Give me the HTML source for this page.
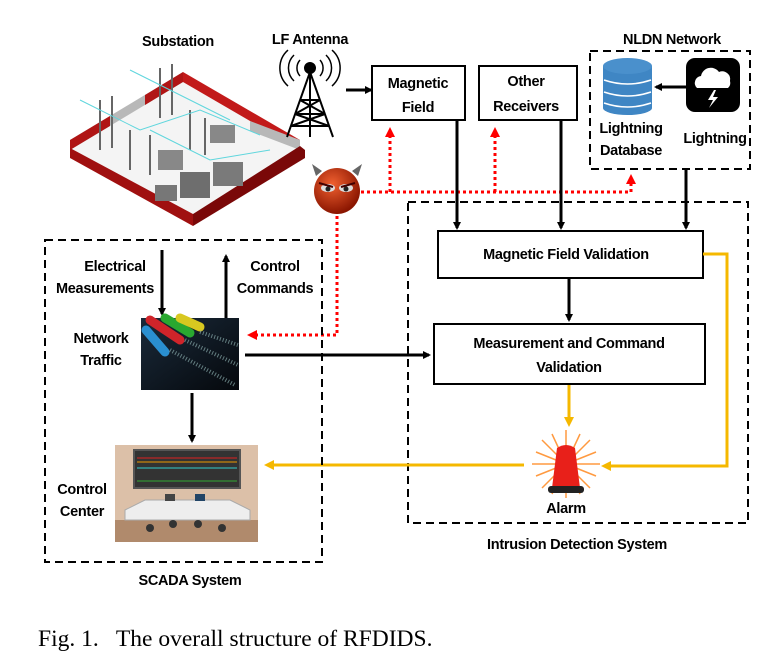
<!DOCTYPE html>
<html><head><meta charset="utf-8"><style>
html,body{margin:0;padding:0;background:#fff;}
svg{display:block;}
.t{font-family:"Liberation Sans",sans-serif;font-weight:bold;font-size:14.5px;fill:#000;letter-spacing:-0.3px;}
</style></head><body>
<svg width="768" height="672" viewBox="0 0 768 672" xmlns="http://www.w3.org/2000/svg">
<defs>
<marker id="ab" markerWidth="8" markerHeight="8" refX="6" refY="4" orient="auto" markerUnits="userSpaceOnUse"><path d="M0,0 L8,4 L0,8 z" fill="#000"/></marker>
<marker id="ar" markerWidth="10" markerHeight="10" refX="7" refY="5" orient="auto" markerUnits="userSpaceOnUse"><path d="M0,0 L10,5 L0,10 z" fill="#f00"/></marker>
<marker id="ay" markerWidth="10" markerHeight="10" refX="7" refY="5" orient="auto" markerUnits="userSpaceOnUse"><path d="M0,0 L10,5 L0,10 z" fill="#f5b800"/></marker>
<radialGradient id="dv" cx="40%" cy="35%" r="65%"><stop offset="0" stop-color="#f06030"/><stop offset="1" stop-color="#8a1500"/></radialGradient>
<linearGradient id="nt" x1="0" y1="0" x2="1" y2="1"><stop offset="0" stop-color="#1a2a3a"/><stop offset="1" stop-color="#05080c"/></linearGradient>
</defs>

<text class="t" x="178" y="46" text-anchor="middle">Substation</text>
<text class="t" x="310" y="44" text-anchor="middle">LF Antenna</text>
<text class="t" x="672" y="44" text-anchor="middle">NLDN Network</text>

<!-- Substation -->
<g>
<polygon points="70,148 183,80 300,148 193,222" fill="#f4f4f4"/>
<polygon points="70,140 183,72 183,82 70,150" fill="#b8b8b8"/>
<polygon points="70,140 110,116 110,126 70,150" fill="#b01515"/>
<polygon points="145,95 183,72 183,82 145,105" fill="#b01515"/>
<polygon points="183,72 300,140 300,150 183,82" fill="#c21a1a"/>
<polygon points="250,121 300,140 300,150 250,131" fill="#b8b8b8"/>
<polygon points="70,148 193,214 193,226 70,158" fill="#a01010"/>
<polygon points="193,214 300,146 305,150 305,158 193,226" fill="#7a0808"/>
<g stroke="#666" stroke-width="2">
<line x1="100" y1="100" x2="100" y2="150"/><line x1="112" y1="96" x2="112" y2="148"/>
<line x1="160" y1="68" x2="160" y2="118"/><line x1="172" y1="64" x2="172" y2="115"/>
<line x1="130" y1="130" x2="130" y2="170"/><line x1="150" y1="135" x2="150" y2="175"/>
<line x1="190" y1="110" x2="190" y2="150"/><line x1="205" y1="118" x2="205" y2="155"/>
</g>
<g stroke="#5fd6dd" stroke-width="1" fill="none">
<path d="M80,100 L140,130 L200,110 L260,135"/><path d="M130,70 L190,100 L230,120"/><path d="M150,130 L210,160 L270,150"/>
</g>
<rect x="155" y="185" width="22" height="16" fill="#777"/>
<rect x="180" y="172" width="30" height="26" fill="#6e6e6e"/>
<rect x="213" y="162" width="30" height="24" fill="#7a7a7a"/>
<rect x="158" y="150" width="25" height="20" fill="#888"/>
<rect x="210" y="125" width="25" height="18" fill="#888"/>
</g>

<!-- Antenna -->
<g stroke="#000" stroke-width="2" fill="none">
<circle cx="310" cy="68" r="5" fill="#000"/>
<path d="M310,72 L287,137 M310,72 L333,137 M310,72 L310,137 M300,100 L320,100 M295,114 L325,114 M291,126 L329,126 M300,100 L325,114 M320,100 L295,114 M295,114 L329,126 M325,114 L291,126"/>
<path d="M300,60 a12,12 0 0 0 0,16 M320,60 a12,12 0 0 1 0,16 M294,55 a18,18 0 0 0 0,26 M326,55 a18,18 0 0 1 0,26 M288,50 a24,24 0 0 0 0,36 M332,50 a24,24 0 0 1 0,36" stroke-width="1.5"/>
</g>
<line x1="346" y1="90" x2="371" y2="90" stroke="#000" stroke-width="3" marker-end="url(#ab)"/>

<rect x="372" y="66" width="93" height="54" fill="#fff" stroke="#000" stroke-width="2"/>
<text class="t" x="418" y="88" text-anchor="middle" font-size="15.5">Magnetic</text>
<text class="t" x="418" y="112" text-anchor="middle" font-size="15.5">Field</text>
<rect x="479" y="66" width="98" height="54" fill="#fff" stroke="#000" stroke-width="2"/>
<text class="t" x="526" y="86" text-anchor="middle" font-size="15.5">Other</text>
<text class="t" x="526" y="111" text-anchor="middle" font-size="15.5">Receivers</text>

<!-- NLDN -->
<rect x="590" y="51" width="160" height="118" fill="none" stroke="#000" stroke-width="2" stroke-dasharray="8,5"/>
<g>
<rect x="603" y="66" width="49" height="42" fill="#3f86c4"/>
<ellipse cx="627.5" cy="66" rx="24.5" ry="8" fill="#4a90cc"/>
<ellipse cx="627.5" cy="108" rx="24.5" ry="7" fill="#3f86c4"/>
<path d="M604,80 q23.5,8 47,0 M604,92 q23.5,8 47,0 M604,103 q23.5,8 47,0" stroke="#fff" stroke-width="1.5" fill="none"/>
</g>
<rect x="686" y="58" width="54" height="54" rx="9" fill="#000"/>
<path d="M697,88 a7,7 0 0 1 4,-12 a10,10 0 0 1 18,-4 a8,8 0 0 1 11,9 a7,7 0 0 1 -2,7 z" fill="#fff"/>
<path d="M714,90 L708,100 L713,100 L709,108 L718,97 L713,97 L716,90 z" fill="#fff"/>
<line x1="686" y1="87" x2="656" y2="87" stroke="#000" stroke-width="3" marker-end="url(#ab)"/>
<text class="t" x="631" y="133" text-anchor="middle">Lightning</text>
<text class="t" x="631" y="155" text-anchor="middle">Database</text>
<text class="t" x="715" y="143" text-anchor="middle">Lightning</text>

<!-- Devil -->
<circle cx="337" cy="191" r="23" fill="url(#dv)"/>
<path d="M316,176 l-4,-12 l10,7 z M358,176 l4,-12 l-10,7 z" fill="#666"/>
<ellipse cx="328" cy="188" rx="7" ry="4" fill="#ddd"/><ellipse cx="346" cy="188" rx="7" ry="4" fill="#ddd"/>
<circle cx="328" cy="189" r="2.5" fill="#222"/><circle cx="346" cy="189" r="2.5" fill="#222"/>
<path d="M319,183 L333,187 M355,183 L341,187" stroke="#400" stroke-width="2"/>

<g stroke="#f00" stroke-width="3" stroke-dasharray="3,3" fill="none">
<path d="M361,192 L631,192"/>
<path d="M390,192 L390,130" marker-end="url(#ar)"/>
<path d="M495,192 L495,130" marker-end="url(#ar)"/>
<path d="M631,192 L631,177" marker-end="url(#ar)"/>
<path d="M337,216 L337,335 L250,335" marker-end="url(#ar)"/>
</g>

<!-- IDS -->
<rect x="408" y="202" width="340" height="321" fill="none" stroke="#000" stroke-width="2" stroke-dasharray="8,5"/>
<text class="t" x="577" y="549" text-anchor="middle">Intrusion Detection System</text>
<g stroke="#000" stroke-width="3">
<line x1="457" y1="121" x2="457" y2="228" marker-end="url(#ab)"/>
<line x1="561" y1="121" x2="561" y2="228" marker-end="url(#ab)"/>
<line x1="686" y1="170" x2="686" y2="228" marker-end="url(#ab)"/>
<line x1="569" y1="279" x2="569" y2="320" marker-end="url(#ab)"/>
<line x1="245" y1="355" x2="429" y2="355" marker-end="url(#ab)"/>
<line x1="162" y1="250" x2="162" y2="314" marker-end="url(#ab)"/>
<line x1="226" y1="318" x2="226" y2="256" marker-end="url(#ab)"/>
<line x1="192" y1="393" x2="192" y2="441" marker-end="url(#ab)"/>
</g>
<rect x="438" y="231" width="265" height="47" fill="#fff" stroke="#000" stroke-width="2"/>
<text class="t" x="566" y="259" text-anchor="middle" font-size="15">Magnetic Field Validation</text>
<rect x="434" y="324" width="271" height="60" fill="#fff" stroke="#000" stroke-width="2"/>
<text class="t" x="569" y="348" text-anchor="middle" font-size="15">Measurement and Command</text>
<text class="t" x="569" y="372" text-anchor="middle" font-size="15">Validation</text>

<g stroke="#f5b800" stroke-width="3" fill="none">
<path d="M569,385 L569,424" marker-end="url(#ay)"/>
<path d="M703,254 L727,254 L727,466 L604,466" marker-end="url(#ay)"/>
<path d="M524,465 L267,465" marker-end="url(#ay)"/>
</g>

<g>
<g stroke="#ff9a40" stroke-width="1.5">
<path d="M566,430 L566,498 M532,464 L600,464 M542,440 L590,488 M590,440 L542,488 M552,434 L580,494 M580,434 L552,494 M536,452 L596,476 M596,452 L536,476"/>
</g>
<path d="M557,448 q9,-6 18,0 L580,488 L552,488 z" fill="#e8201a"/>
<rect x="548" y="486" width="36" height="7" rx="3" fill="#222"/>
</g>
<text class="t" x="566" y="513" text-anchor="middle">Alarm</text>

<!-- SCADA -->
<rect x="45" y="240" width="277" height="322" fill="none" stroke="#000" stroke-width="2" stroke-dasharray="8,5"/>
<text class="t" x="190" y="585" text-anchor="middle">SCADA System</text>
<text class="t" x="115" y="271" text-anchor="middle">Electrical</text>
<text class="t" x="105" y="293" text-anchor="middle">Measurements</text>
<text class="t" x="275" y="271" text-anchor="middle">Control</text>
<text class="t" x="275" y="293" text-anchor="middle">Commands</text>
<text class="t" x="101" y="343" text-anchor="middle">Network</text>
<text class="t" x="101" y="365" text-anchor="middle">Traffic</text>
<text class="t" x="82" y="494" text-anchor="middle">Control</text>
<text class="t" x="82" y="516" text-anchor="middle">Center</text>

<rect x="141" y="318" width="98" height="72" fill="url(#nt)"/>
<g stroke-width="9" stroke-linecap="round">
<line x1="146" y1="330" x2="165" y2="352" stroke="#2a8fd0"/>
<line x1="150" y1="320" x2="180" y2="340" stroke="#d0242a"/>
<line x1="165" y1="318" x2="190" y2="333" stroke="#2aa830"/>
<line x1="180" y1="318" x2="200" y2="327" stroke="#d8c820"/>
</g>
<path d="M170,350 L235,385 M185,340 L238,365 M200,332 L238,345" stroke="#8aa" stroke-width="4" stroke-dasharray="1,2" opacity="0.7"/>

<rect x="115" y="445" width="143" height="97" fill="#dcc0a8"/>
<rect x="115" y="520" width="143" height="22" fill="#b08a6c"/>
<rect x="134" y="450" width="106" height="38" fill="#333" stroke="#555" stroke-width="2"/>
<line x1="137" y1="458" x2="237" y2="458" stroke="#d22" stroke-width="1"/>
<line x1="137" y1="462" x2="237" y2="462" stroke="#e90" stroke-width="1"/>
<line x1="137" y1="468" x2="237" y2="468" stroke="#3cc" stroke-width="1"/>
<line x1="137" y1="481" x2="237" y2="481" stroke="#3a3" stroke-width="1"/>
<path d="M125,510 L145,500 L230,500 L250,510 L250,520 L125,520 z" fill="#eee" stroke="#aaa"/>
<rect x="165" y="494" width="10" height="7" fill="#444"/><rect x="195" y="494" width="10" height="7" fill="#246"/>
<g fill="#333"><circle cx="150" cy="528" r="4"/><circle cx="173" cy="524" r="4"/><circle cx="198" cy="524" r="4"/><circle cx="222" cy="528" r="4"/></g>

<text x="38" y="646" font-family="'Liberation Serif',serif" font-size="23.5" fill="#000" xml:space="preserve">Fig. 1.   The overall structure of RFDIDS.</text>
</svg>
</body></html>
